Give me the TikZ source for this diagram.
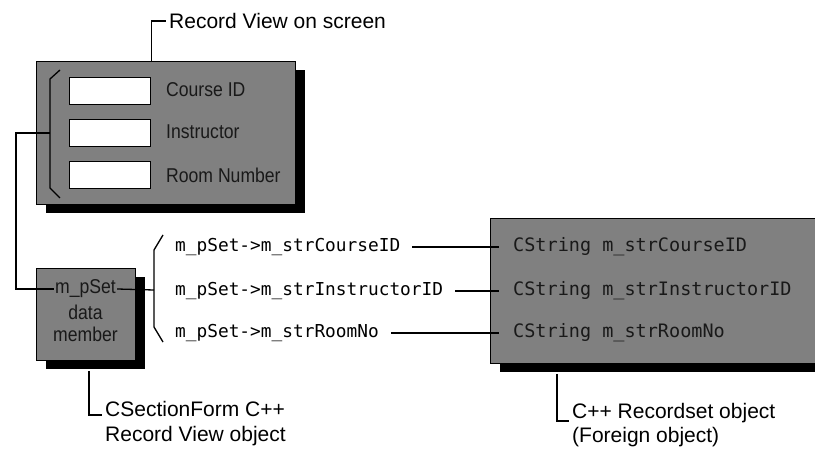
\documentclass[tikz,border=0pt]{standalone}
\usepackage{fontspec}
\setmainfont{Liberation Sans}
\setmonofont{DejaVu Sans Mono}
\newfontfamily\narrowfont[FakeStretch=0.88]{Liberation Sans}
\usetikzlibrary{calc,shadows}

\begin{document}
\begin{tikzpicture}[
  x=1pt, y=-1pt,
  panel/.style={rectangle, draw, line width=0.9pt, fill=black!50, anchor=north west, inner sep=0pt,
                drop shadow={shadow xshift=10pt, shadow yshift=-9pt, fill=black, opacity=1}},
  field/.style={rectangle, draw, line width=0.9pt, fill=white, minimum width=81pt, minimum height=27pt, inner sep=0pt},
  inlabel/.style={font=\narrowfont\fontsize{20}{22}\selectfont, text=black!90, inner sep=1pt},
  outlabel/.style={font=\fontsize{21}{25}\selectfont, anchor=west, inner sep=3pt},
  code/.style={font=\ttfamily\fontsize{17.8}{21}\selectfont, anchor=west, inner sep=0pt},
  colfield/.style={code, font=\ttfamily\fontsize{18.5}{22}\selectfont, text=black!90},
  conn/.style={line width=1.3pt},
]
\useasboundingbox (0,0) rectangle (815,449);
\clip (0,0) rectangle (815,449);

\node[panel, minimum width=259pt, minimum height=143pt] (rv) at (36,61) {};
\node[field] (f1) at (109.5,90.5) {};
\node[field] (f2) at (109.5,132.5) {};
\node[field] (f3) at (109.5,175) {};
\node[inlabel, anchor=west] (l1) at (165,90)  {Course ID};
\node[inlabel, anchor=west] (l2) at (165,132) {Instructor};
\node[inlabel, anchor=west] (l3) at (165,175) {Room Number};
\draw[conn] (60,70) -- (50,79) -- (50,188) -- (60,198);
\coordinate (brL) at (50,133);

\node[outlabel] (rvl) at (166,21) {Record View on screen};
\draw[conn] ([xshift=-14.5pt]rv.north) |- (rvl.west);

\node[panel, minimum width=99pt, minimum height=92pt] (mbox) at (36,268) {};
\node[inlabel] (mps) at (85.5,289) {m\_pSet};
\node[inlabel, align=center] (dm) at (85.5,323) {data\\member};
\coordinate (lk) at (16,133);
\draw[conn] (brL) -- (lk) |- (mps.west);
\coordinate (brR) at (154,290);
\draw[conn] (mps.east) -- (brR);
\draw[conn] (163,235) -- (154,250) -- (154,327) -- (163,342);

\node[code] (a1) at (175,247) {m\_pSet->m\_strCourseID};
\node[code] (a2) at (175,291) {m\_pSet->m\_strInstructorID};
\node[code] (a3) at (175,333) {m\_pSet->m\_strRoomNo};

\node[panel, minimum width=340pt, minimum height=145pt] (rs) at (490,218) {};
\node[colfield] (c1) at (513,247) {CString m\_strCourseID};
\node[colfield] (c2) at (513,291) {CString m\_strInstructorID};
\node[colfield] (c3) at (513,333) {CString m\_strRoomNo};
\draw[conn, shorten <=12pt, shorten >=14pt] (a1.east) -- (c1.west);
\draw[conn, shorten <=12pt, shorten >=14pt] (a2.east) -- (c2.west);
\draw[conn, shorten <=12pt, shorten >=14pt] (a3.east) -- (c3.west);

\node[outlabel] (cs1) at (102,409) {CSectionForm C++};
\node[outlabel] (cs2) at (102,436) {Record View object};
\draw[conn] ([shift={(3,10)}]mbox.south) |- ([yshift=-6pt]cs1.west);

\node[outlabel] (fo1) at (569,413) {C++ Recordset object};
\node[outlabel] (fo2) at (569,437) {(Foreign object)};
\draw[conn] ([shift={(67,10)}]rs.south west) |- ([yshift=-8pt]fo1.west);
\end{tikzpicture}
\end{document}
